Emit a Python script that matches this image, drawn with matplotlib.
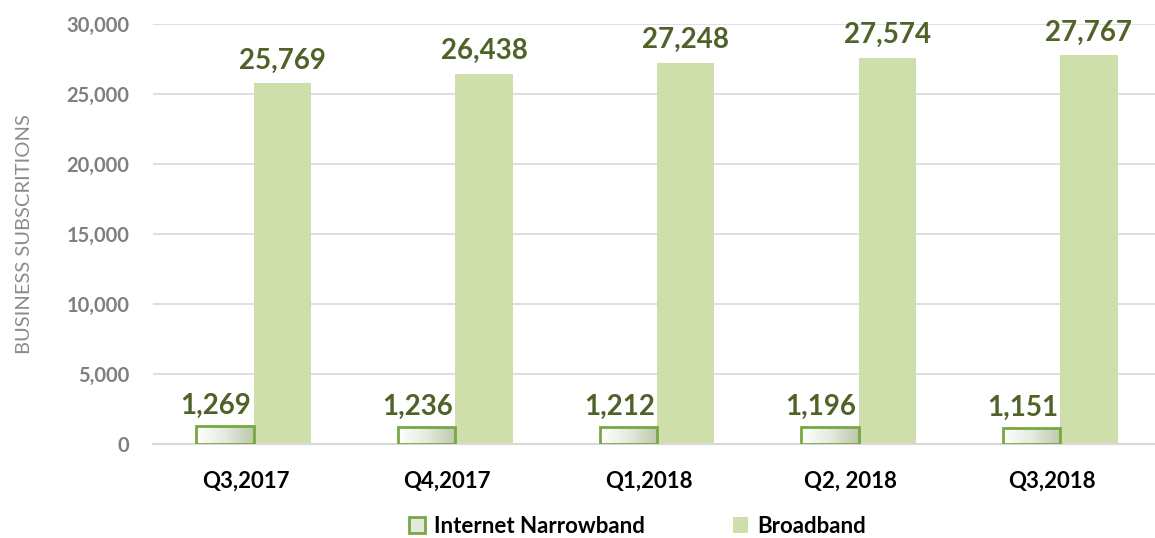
import matplotlib
matplotlib.use("Agg")
import matplotlib.pyplot as plt
import numpy as np
from matplotlib.patches import Patch
from matplotlib.colors import LinearSegmentedColormap

categories = ["Q3,2017", "Q4,2017", "Q1,2018", "Q2, 2018", "Q3,2018"]
narrowband = [1269, 1236, 1212, 1196, 1151]
broadband = [25769, 26438, 27248, 27574, 27767]
series_names = ["Internet Narrowband", "Broadband"]

FONT = ["Lato", "DejaVu Sans"]
plt.rcParams['font.family'] = FONT

fig = plt.figure(figsize=(11.55, 5.38), dpi=100)
ax = fig.add_axes([153/1155, (538-444)/538, (1161-153)/1155, (444-24)/538])

x = np.arange(len(categories))
w = 0.285
bb_color = "#cfdfab"
edge_green = "#77a843"
label_color = "#4f6228"

bars_b = ax.bar(x + w/2, broadband, width=w, color=bb_color, zorder=2)
bars_n = ax.bar(x - w/2, narrowband, width=w, facecolor="none", edgecolor=edge_green,
                linewidth=2, zorder=4)

cmap = LinearSegmentedColormap.from_list("g", ["#ffffff", "#e6eadf", "#bcc8ab"])
grad = np.linspace(0, 1, 256).reshape(1, -1)
for b in bars_n:
    x0, y0 = b.get_x(), b.get_y()
    im = ax.imshow(grad, cmap=cmap, aspect='auto', extent=[x0, x0 + b.get_width(), y0, y0 + b.get_height()],
                   zorder=3, interpolation='bilinear')
    im.set_clip_path(b)

ax.set_xlim(-0.5, 4.5)
ax.set_ylim(0, 30000)
ax.set_yticks(np.arange(0, 30001, 5000))
ax.set_yticklabels([f"{v:,}" for v in range(0, 30001, 5000)])
ax.yaxis.grid(True, color="#d9d9d9", linewidth=1.2, zorder=0)
ax.set_axisbelow(True)
for s in ["top", "right", "left"]:
    ax.spines[s].set_visible(False)
ax.spines["bottom"].set_color("#d9d9d9")
ax.spines["bottom"].set_linewidth(1.5)
ax.tick_params(axis='y', length=0, pad=17, labelsize=14.5, labelcolor="#7f7f7f")
ax.tick_params(axis='x', length=0, pad=19, labelsize=16)
for t in ax.get_yticklabels():
    t.set_fontweight("bold")
ax.set_xticks(x - 0.04)
ax.set_xticklabels(categories, fontweight="bold", color="black")
ax.set_ylabel("BUSINESS SUBSCRITIONS", color="#8c8c8c", fontsize=14.5, labelpad=24)

for xi, v in zip(x, narrowband):
    ax.annotate(f"{v:,}", (xi - w/2 - 0.045, v), xytext=(0, 5), textcoords="offset points",
                ha="center", va="bottom", fontsize=20, fontweight="bold", color=label_color)
for xi, v in zip(x, broadband):
    ax.annotate(f"{v:,}", (xi + w/2, v), xytext=(0, 7), textcoords="offset points",
                ha="center", va="bottom", fontsize=20, fontweight="bold", color=label_color)

handles = [Patch(facecolor="#e4e9dc", edgecolor=edge_green, linewidth=2),
           Patch(facecolor=bb_color, edgecolor="none")]
fig.legend(handles, series_names, loc="center", bbox_to_anchor=(0.552, 0.022), ncol=2,
           frameon=False, handlelength=0.7, handleheight=0.7,
           columnspacing=3.95, handletextpad=0.4, prop={"weight": "bold", "size": 16})

fig.savefig("out.png", dpi=100)
